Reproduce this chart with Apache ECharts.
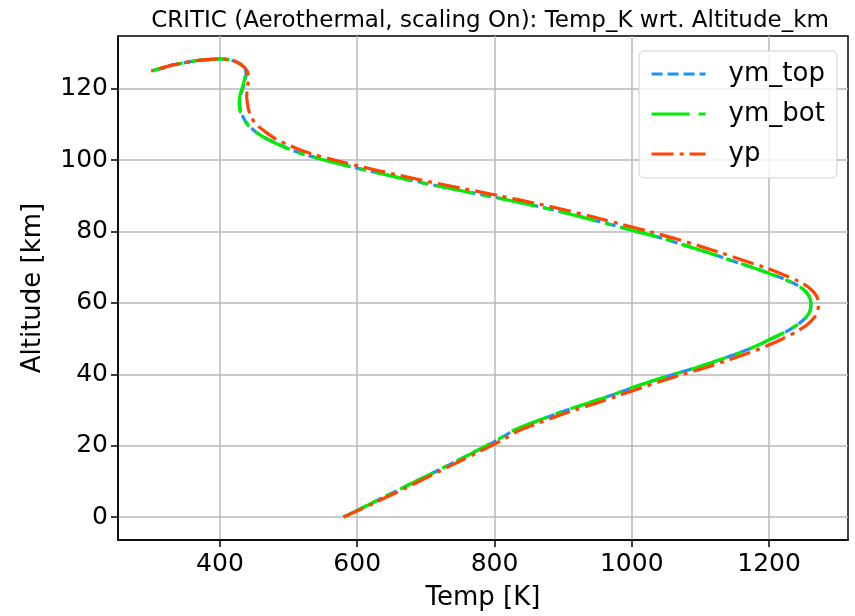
<!DOCTYPE html>
<html><head><meta charset="utf-8">
<script src="https://cdn.jsdelivr.net/npm/echarts@6/dist/echarts.min.js"></script>
<style>html,body{margin:0;padding:0;background:#fff}#c{width:855px;height:616px}</style>
</head><body><div id="c"></div>
<script>
// Altitude [km] along each profile (shared)
var altitude_km = [0,2,4,6,8,10,12,14,16,18,20,22,24,26,28,30,32,34,36,38,40,42,44,46,48,50,52,54,56,58,60,62,64,66,68,70,72,74,76,78,80,82,84,86,88,90,92,94,96,98,100,102,104,106,108,110,112,114,116,118,120,122,124,125.5,126.8,127.9,128.4,128.2,127.9,126.7,125.8,125];
// Temperature [K]
var ym_top = [580,601,622,643,664,685,706,727,748,768,789,808,825,850,877,906,937,968,997,1028,1061,1096,1127,1156,1182,1204,1225,1242,1254,1260,1261,1258,1249,1231,1205,1175,1144,1113,1080,1047,1008,969,929,888,841,791,738,687,641,595,554,517,491,469,452,441,434,430,429,430,433,436,438,437,431,419,400,383,366,332,315,300];
var ym_bot = [580,601,622,643,664,685,706,727,748,768,788,807,824,849,876,905,937,968,996,1027,1060,1096,1127,1156,1182,1203,1225,1242,1254,1260,1261,1258,1249,1230,1204,1175,1144,1113,1080,1047,1008,968,928,887,840,790,737,686,640,594,553,516,490,468,451,440,433,429,428,429,432,435,437,436,430,419,400,383,366,332,315,300];
var yp = [580,603,625,647,669,690,711,732,753,774,795,815,833,859,887,917,949,980,1010,1041,1074,1109,1140,1170,1197,1220,1240,1256,1266,1271,1272,1269,1260,1244,1220,1193,1162,1131,1098,1064,1026,986,946,905,858,808,756,704,656,610,568,530,503,481,466,453,446,442,440,439,440,441,441,438,431,419,400,383,366,332,315,300];
var xTicks = [400,600,800,1000,1200];
var yTicks = [0,20,40,60,80,100,120];
var seriesNames = ['ym_top','ym_bot','yp'];

function pairs(t){ return t.map(function(v,i){ return [v, altitude_km[i]]; }); }
var FONT = 'DejaVu Sans';
var styles = {
  ym_top:{color:'#1e90ff', width:3.2, type:[11,5]},
  ym_bot:{color:'#00ee00', width:3.2, type:[38,9,7,9]},
  yp:{color:'#ff4500', width:3.2, type:[22,6,4,6]}
};
var chart = echarts.init(document.getElementById('c'), null, {renderer:'canvas'});
chart.setOption({
  animation:false,
  backgroundColor:'#fff',
  title:{text:'CRITIC (Aerothermal, scaling On): Temp_K wrt. Altitude_km', left:485, top:5, textAlign:'center',
    textStyle:{fontFamily:FONT, fontSize:23, fontWeight:'normal', color:'#000'}},
  grid:{left:118, right:7, top:36, bottom:76, show:true, borderColor:'#000', borderWidth:1.5, backgroundColor:'transparent'},
  legend:{
    left:639, top:51, orient:'vertical', itemWidth:54, itemHeight:14, itemGap:14,
    padding:[10,12,11,11], borderColor:'#d0d0d0', borderWidth:1, borderRadius:5,
    backgroundColor:'rgba(255,255,255,0.8)',
    itemStyle:{opacity:0},
    textStyle:{fontFamily:FONT, fontSize:26, color:'#000', lineHeight:26, padding:[0,0,0,18]},
    data:seriesNames.map(function(n){ return {name:n, itemStyle:{opacity:0}, lineStyle:styles[n]}; })
  },
  xAxis:{type:'value', min:251.5, max:1315, name:'Temp [K]', nameLocation:'middle', nameGap:45,
    nameTextStyle:{fontFamily:FONT, fontSize:26, color:'#000'},
    axisLine:{show:true, onZero:false, lineStyle:{color:'#000', width:1.5}},
    axisTick:{show:true, inside:false, length:7, customValues:xTicks, lineStyle:{color:'#000', width:1.5}},
    axisLabel:{customValues:xTicks, formatter:function(v){return String(v);}, fontFamily:FONT, fontSize:25, color:'#000', margin:12},
    splitLine:{show:true, lineStyle:{color:'#b8b8b8', width:1.5}}},
  yAxis:{type:'value', min:-6.4, max:134.8, name:'Altitude [km]', nameLocation:'middle', nameGap:72, nameRotate:90,
    nameTextStyle:{fontFamily:FONT, fontSize:26, color:'#000'},
    axisLine:{show:true, onZero:false, lineStyle:{color:'#000', width:1.5}},
    axisTick:{show:true, inside:false, length:7, customValues:yTicks, lineStyle:{color:'#000', width:1.5}},
    axisLabel:{customValues:yTicks, formatter:function(v){return String(v);}, fontFamily:FONT, fontSize:25, color:'#000', margin:10},
    splitLine:{show:true, lineStyle:{color:'#b8b8b8', width:1.5}}},
  series:seriesNames.map(function(n, k){
    var t = [ym_top, ym_bot, yp][k];
    return {name:n, type:'line', data:pairs(t), showSymbol:false, symbol:'none', smooth:0.3,
      lineStyle:styles[n], itemStyle:{color:styles[n].color}, z:2+k};
  })
});
</script></body></html>
